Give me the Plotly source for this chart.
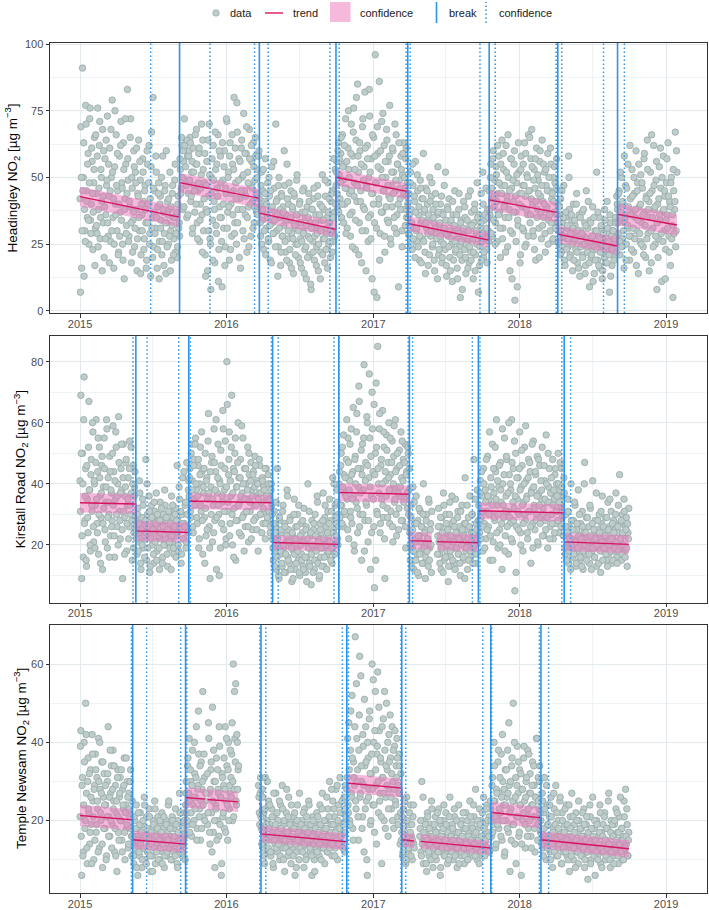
import datetime as dt
import plotly.graph_objects as go
from plotly.subplots import make_subplots

# ---------------- data: daily values from 2015-01-01 ----------------
# *_even: days 0, 2, 4, ...   *_odd: days 1, 3, 5, ...
start_date = dt.date(2015, 1, 1)

headingley_even = [
    42, 69, 16, 91, 50, 13, 30, 77, 45, 35, 59, 25, 72, 34, 40, 56, 23, 48, 65, 31,
    44, 29, 76, 38, 62, 27, 53, 41, 68, 33, 20, 57, 36, 47, 73, 28, 43, 61, 26, 50,
    79, 35, 16, 54, 40, 66, 30, 45, 22, 58, 37, 71, 48, 25, 63, 12, 42, 55, 32, 83,
    49, 28, 39, 72, 18, 46, 34, 60, 24, 52, 38, 15, 44, 64, 30, 49, 21, 36, 57, 41,
    27, 47, 33, 19, 55, 40, 62, 29, 13, 67, 35, 80, 24, 45, 31, 52, 16, 39, 48, 26,
    43, 34, 21, 58, 37, 29, 47, 14, 33, 41, 25, 38, 52, 30, 19, 44, 35, 27, 49, 22,
    36, 20, 40, 31, 28,
    53, 46, 62, 38, 56, 72, 49, 63, 35, 58, 44, 60, 65, 41, 52, 29, 61, 47, 37, 55,
    68, 33, 45, 59, 26, 40, 51, 36, 64, 30, 48, 21, 38, 56, 15, 43, 70, 27, 8, 50,
    34, 62, 41, 18, 53, 29, 46, 66, 23, 39, 58, 35, 9, 49, 31, 60, 24, 44, 71, 37,
    52, 19, 63, 40, 28, 55, 45, 80, 33, 48, 25, 67, 38, 57, 42, 16, 61, 50, 30, 74,
    45, 36, 59, 22, 52, 39, 68, 47, 28, 56, 41, 63, 33, 49, 58, 37, 53, 44, 60,
    39, 28, 52, 34, 45, 23, 41, 57, 31, 36, 48, 26, 43, 19, 38, 54, 33, 29, 46, 37,
    70, 30, 42, 24, 50, 35, 17, 44, 28, 39, 32, 47, 22, 36, 55, 27, 40, 18, 34, 45,
    29, 38, 14, 43, 31, 25, 49, 36, 20, 33, 41, 27, 16, 37, 30, 46, 23, 35, 12, 39,
    28, 44, 21, 33, 8, 38, 26, 42, 19, 31, 36, 24, 47, 15, 30, 40, 22, 34, 51, 27,
    38, 18, 43, 29, 35, 48, 25, 33, 20, 41, 30, 45, 26, 37, 53,
    47, 56, 38, 63, 51, 42, 59, 35, 66, 49, 55, 40, 72, 46, 31, 61, 53, 44, 28, 70,
    37, 58, 76, 48, 23, 64, 41, 85, 52, 33, 60, 45, 18, 69, 39, 54, 82, 30, 47, 62,
    26, 50, 73, 36, 57, 12, 44, 65, 33, 96, 48, 5, 59, 40, 86, 29, 53, 71, 37, 45,
    62, 22, 50, 68, 34, 56, 43, 77, 27, 47, 39, 60, 52, 31, 45, 66, 36, 55, 9, 49,
    42, 58, 30, 51, 63, 38, 46, 57, 35, 48,
    35, 44, 28, 52, 38, 23, 47, 31, 41, 56, 30, 26, 45, 36, 19, 49, 33, 42, 27, 59,
    37, 22, 46, 31, 40, 17, 35, 50, 28, 43, 24, 38, 33, 15, 44, 29, 36, 54, 21, 32,
    40, 26, 18, 37, 30, 47, 23, 34, 13, 39, 28, 42, 20, 33, 25, 11, 36, 30, 45, 22,
    31, 16, 27, 38, 24, 5, 34, 19, 29, 41, 23, 35, 14, 30, 26, 43, 18, 32, 22, 37,
    27, 12, 33, 40, 21, 29, 48, 25, 36, 17, 31, 44, 26, 52, 20, 34, 28, 46, 23, 38,
    30,
    45, 36, 55, 42, 28, 60, 39, 49, 33, 51, 26, 44, 58, 37, 20, 47, 64, 31, 53, 40,
    35, 62, 43, 24, 50, 38, 15, 57, 46, 29, 41, 55, 4, 37, 48, 9, 32, 52, 44, 21,
    58, 39, 47, 30, 63, 43, 25, 51, 36, 66, 45, 33, 57, 68, 40, 28, 53, 46, 19, 61,
    38, 49, 31, 56, 43, 27, 64, 41, 35, 52, 22, 47, 39, 59, 34, 45, 30, 55, 42, 26,
    50, 37, 48, 33, 57, 40,
    30, 25, 36, 42, 22, 33, 28, 47, 19, 35, 27, 31, 24, 58, 38, 21, 29, 34, 15, 40,
    26, 32, 23, 44, 18, 29, 36, 13, 30, 25, 37, 21, 28, 33, 17, 45, 24, 31, 27, 9,
    34, 20, 26, 39, 23, 14, 30, 25, 52, 19, 28, 35, 16, 24, 31, 12, 27, 22, 38, 18,
    26, 41, 21, 29, 7, 33, 23, 17, 30, 25, 20, 35, 28, 43,
    38, 29, 45, 21, 34, 50, 27, 40, 16, 33, 47, 25, 36, 55, 31, 19, 42, 28, 53, 37,
    22, 44, 35, 60, 30, 48, 14, 39, 26, 51, 33, 46, 24, 57, 37, 20, 43, 64, 29, 41,
    35, 52, 18, 45, 31, 62, 38, 25, 49, 8, 40, 27, 54, 34, 46, 11, 37, 58, 30, 43,
    23, 48, 36, 63, 28, 41, 17, 50, 32, 5, 45, 38, 67, 30, 52,
]
headingley_odd = [
    7, 50, 30, 45, 63, 38, 26, 70, 41, 55, 34, 48, 76, 29, 61, 44, 37, 53, 17, 66,
    32, 58, 24, 46, 71, 35, 50, 15, 43, 60, 39, 27, 64, 49, 33, 55, 18, 45, 68, 30,
    52, 42, 25, 75, 36, 47, 59, 21, 40, 28, 62, 34, 46, 19, 53, 38, 72, 29, 44, 57,
    26, 41, 65, 33, 50, 22, 37, 54, 31, 48, 61, 27, 43, 35, 56, 14, 40, 30, 52, 23,
    45, 38, 16, 60, 33, 48, 25, 42, 54, 31, 20, 46, 37, 29, 58, 35, 23, 44, 12, 40,
    31, 50, 26, 38, 17, 45, 33, 60, 24, 36, 42, 28, 15, 39, 32, 47, 21, 35, 55, 29,
    37, 24, 43, 33,
    57, 44, 65, 50, 60, 39, 62, 54, 47, 64, 36, 58, 49, 63, 43, 56, 31, 52, 45, 66,
    40, 55, 27, 48, 61, 34, 46, 70, 22, 53, 42, 59, 13, 47, 37, 64, 30, 51, 25, 44,
    57, 19, 49, 38, 67, 32, 55, 43, 11, 60, 35, 48, 26, 63, 40, 54, 17, 46, 72, 31,
    50, 39, 58, 23, 44, 66, 36, 53, 29, 61, 42, 78, 33, 49, 20, 56, 45, 64, 38, 51,
    27, 59, 43, 69, 35, 48, 24, 57, 40, 62, 46, 31, 54, 39, 65, 44, 50, 36, 58,
    42, 33, 47, 25, 38, 53, 30, 44, 21, 40, 35, 27, 50, 32, 45, 18, 39, 29, 56, 34,
    24, 41, 36, 13, 47, 31, 38, 22, 43, 28, 37, 60, 26, 34, 19, 42, 30, 48, 23, 35,
    16, 39, 27, 44, 32, 21, 36, 51, 25, 30, 40, 18, 33, 26, 45, 29, 14, 37, 24, 32,
    20, 35, 41, 27, 10, 31, 38, 22, 46, 28, 33, 17, 29, 43, 25, 36, 12, 30, 39, 21,
    34, 27, 49, 23, 31, 16, 37, 42, 26, 30, 44, 22, 35, 57, 28, 40,
    52, 44, 60, 37, 57, 48, 65, 40, 54, 33, 62, 46, 29, 56, 41, 75, 50, 36, 59, 45,
    24, 67, 43, 53, 34, 80, 47, 58, 21, 63, 41, 55, 30, 72, 49, 38, 61, 15, 46, 57,
    35, 83, 52, 27, 44, 66, 40, 7, 58, 48, 31, 69, 54, 42, 19, 60, 37, 50, 74, 45,
    28, 56, 39, 64, 47, 33, 58, 42, 25, 52, 61, 44, 35, 70, 49, 29, 55, 40, 63, 46,
    38, 53, 24, 59, 44, 50, 32, 61, 43,
    40, 29, 36, 48, 25, 33, 55, 27, 43, 20, 37, 31, 51, 24, 39, 28, 46, 18, 34, 42,
    26, 38, 14, 33, 45, 29, 36, 21, 41, 30, 48, 25, 35, 19, 31, 40, 27, 12, 37, 23,
    33, 28, 43, 20, 36, 25, 31, 52, 17, 29, 38, 24, 30, 15, 34, 27, 41, 19, 32, 26,
    23, 36, 12, 29, 44, 21, 33, 26, 8, 31, 28, 39, 20, 25, 34, 16, 30, 24, 45, 19,
    32, 27, 22, 38, 15, 30, 25, 35, 7, 28, 24, 33, 19, 29, 40, 22, 36, 27, 31, 18,
    35, 26,
    38, 50, 29, 46, 57, 34, 43, 25, 54, 41, 62, 36, 48, 31, 55, 44, 27, 59, 39, 47,
    22, 52, 41, 66, 35, 45, 30, 57, 12, 49, 37, 60, 43, 26, 51, 34, 63, 40, 18, 53,
    44, 31, 55, 47, 24, 59, 38, 50, 28, 45, 65, 36, 42, 54, 30, 49, 23, 57, 41, 35,
    51, 44, 20, 60, 37, 47, 32, 55, 40, 29, 53, 38, 45, 25, 50, 36, 61, 33, 44, 27,
    41, 54, 31, 46, 36,
    33, 26, 39, 21, 30, 45, 24, 35, 28, 17, 37, 23, 32, 27, 50, 20, 29, 36, 25, 31,
    19, 34, 27, 40, 22, 30, 16, 28, 35, 24, 29, 20, 38, 25, 14, 32, 27, 22, 41, 18,
    26, 33, 21, 28, 11, 35, 24, 19, 30, 23, 37, 17, 27, 22, 32, 25, 15, 29, 20, 34,
    24, 18, 31, 26, 21, 36, 13, 28, 23, 30, 19, 27, 33, 22, 40,
    33, 44, 26, 52, 37, 24, 41, 30, 58, 35, 19, 46, 32, 39, 28, 62, 36, 23, 43, 31,
    50, 27, 38, 17, 45, 34, 55, 29, 40, 25, 48, 36, 21, 59, 32, 42, 27, 53, 38, 15,
    44, 30, 66, 35, 24, 47, 39, 28, 56, 33, 20, 42, 36, 61, 29, 50, 26, 38, 45, 12,
    34, 57, 31, 43, 22, 39, 48, 27, 36, 53, 29, 41, 24, 60,
]

kirkstall_even = [
    41, 69, 9, 50, 16, 75, 28, 45, 13, 35, 24, 67, 38, 18, 48, 31, 57, 21, 40, 33,
    61, 27, 44, 17, 52, 36, 29, 46, 12, 39, 55, 25, 34, 61, 19, 42, 30, 49, 23, 37,
    28, 59, 44, 16, 35, 52, 26, 40, 62, 31, 22, 45, 38, 9, 53, 29, 36, 47, 18, 33,
    42, 26, 54, 30, 37, 15, 46, 24, 39, 28,
    26, 17, 32, 21, 41, 24, 12, 29, 35, 19, 27, 22, 48, 15, 30, 25, 36, 11, 23, 33,
    20, 28, 14, 31, 26, 37, 18, 24, 29, 12, 34, 22, 27, 16, 30, 25, 33, 20, 28, 13,
    24, 31, 19, 26, 36, 21, 29, 17, 25, 32, 23, 46, 28, 18, 35, 26, 14, 30, 42, 22,
    27, 33, 19, 47, 25, 38,
    36, 45, 29, 53, 41, 24, 48, 33, 55, 38, 27, 46, 19, 40, 52, 31, 44, 17, 37, 29,
    50, 23, 42, 35, 63, 26, 9, 39, 47, 21, 33, 58, 28, 44, 12, 37, 53, 30, 41, 19,
    46, 34, 64, 25, 38, 54, 22, 80, 31, 43, 57, 27, 36, 69, 20, 45, 32, 50, 15, 39,
    28, 60, 42, 34, 48, 23, 37, 55, 30, 45, 26, 40, 35, 52, 21, 43, 31, 47, 38, 25,
    44, 33, 49, 29, 36, 41, 18, 37, 46, 30, 34, 42, 27, 39, 31, 22, 45, 35, 28, 40,
    36, 24, 38, 33,
    22, 15, 31, 18, 26, 12, 45, 20, 9, 28, 17, 24, 13, 33, 19, 27, 11, 21, 38, 16,
    25, 14, 29, 20, 8, 23, 18, 35, 12, 26, 19, 30, 15, 22, 10, 27, 17, 24, 13, 32,
    21, 11, 26, 16, 40, 19, 14, 23, 7, 28, 18, 25, 12, 30, 20, 15, 34, 22, 9, 27,
    16, 24, 19, 37, 13, 29, 21, 26, 17, 31, 23, 35, 18, 28, 14, 42, 25, 20, 33, 27,
    38, 22, 30,
    40, 29, 46, 33, 52, 26, 43, 37, 30, 48, 35, 55, 22, 41, 31, 58, 27, 44, 36, 18,
    49, 34, 63, 24, 39, 67, 30, 45, 15, 53, 38, 79, 28, 47, 33, 60, 21, 42, 55, 12,
    36, 70, 44, 26, 6, 50, 73, 31, 85, 40, 58, 24, 46, 35, 64, 29, 52, 9, 41, 56,
    32, 47, 60, 27, 43, 38, 54, 21, 49, 34, 61, 30, 45, 39, 25, 51, 36, 57, 42, 28,
    48, 35, 53, 19, 44, 32, 50, 38,
    24, 15, 33, 19, 39, 12, 27, 21, 36, 17, 28, 10, 23, 31, 18, 26, 14, 40, 20, 25,
    16, 30, 22, 13, 34, 19, 27, 11, None, None, None, None, None, None, None,
    23, 32, 17, 26, 12, 29, 20, 37, 15, 24, 30, 18, 25, 8, 21, 34, 16, 27, 13, 22,
    28, 19, 35, 14, 24, 31, 17, 26, 10, 22, 33, 20, 15, 27, 42, 18, 25, 12, 29, 21,
    36, 16, 24, 30, 19, 48, 23, 14, 27, 38, 21,
    33, 24, 41, 29, 36, 18, 45, 27, 38, 22, 31, 49, 26, 35, 15, 42, 30, 53, 21, 37,
    28, 44, 61, 33, 19, 39, 25, 47, 34, 12, 40, 29, 55, 23, 36, 48, 31, 17, 43, 27,
    38, 61, 21, 45, 32, 5, 50, 26, 35, 42, 30, 57, 24, 39, 46, 18, 34, 52, 28, 41,
    36, 22, 48, 31, 44, 14, 38, 27, 54, 33, 25, 43, 30, 49, 20, 37, 46, 29, 35, 52,
    32, 23, 41, 28, 56, 34, 19, 39, 45, 26, 37, 30, 48, 22, 35, 43, 27, 40, 31, 50,
    24, 38, 33, 45, 29, 36, 42,
    23, 17, 30, 20, 35, 14, 26, 19, 40, 22, 16, 28, 21, 33, 13, 25, 18, 38, 23, 15,
    27, 20, 31, 12, 24, 47, 17, 29, 22, 19, 26, 14, 32, 21, 18, 41, 23, 16, 28, 20,
    13, 25, 19, 30, 22, 11, 27, 36, 18, 24, 21, 29, 15, 23, 34, 17, 26, 20, 31, 14,
    22, 28, 18, 25, 37, 16, 24, 33, 19, 27, 21, 15, 30, 23, 35, 18, 26, 29, 13, 24,
    32,
]
kirkstall_odd = [
    31, 50, 23, 40, 61, 27, 36, 15, 46, 29, 52, 38, 20, 43, 33, 60, 26, 41, 19, 47,
    35, 24, 55, 30, 42, 14, 37, 49, 27, 32, 45, 21, 39, 58, 29, 34, 16, 44, 38, 26,
    50, 33, 23, 41, 57, 30, 36, 20, 47, 28, 37, 53, 25, 42, 31, 17, 39, 48, 27, 35,
    22, 45, 33, 52, 28, 40, 19, 36, 44, 25,
    22, 30, 18, 27, 37, 14, 25, 20, 33, 23, 16, 28, 24, 40, 19, 26, 31, 13, 22, 29,
    25, 17, 34, 21, 27, 15, 30, 23, 19, 28, 24, 32, 14, 26, 20, 38, 22, 29, 17, 25,
    31, 21, 27, 12, 23, 33, 19, 26, 30, 16, 28, 24, 20, 39, 25, 31, 17, 27, 22, 44,
    26, 34, 21, 30, 24, 41,
    42, 31, 50, 38, 26, 46, 35, 53, 40, 29, 36, 48, 22, 43, 33, 57, 28, 39, 45, 14,
    32, 41, 25, 54, 37, 19, 44, 30, 49, 35, 24, 47, 38, 61, 29, 42, 33, 10, 40, 51,
    27, 36, 58, 31, 45, 20, 39, 66, 34, 48, 23, 41, 52, 30, 37, 16, 44, 55, 28, 39,
    47, 33, 24, 42, 36, 59, 29, 40, 18, 35, 45, 31, 38, 26, 50, 34, 41, 22, 36, 43,
    28, 39, 46, 33, 25, 40, 35, 48, 30, 37, 24, 41, 32, 38, 45, 27, 36, 29, 43, 31,
    35, 26, 40, 30,
    19, 27, 13, 24, 34, 16, 22, 10, 29, 18, 25, 14, 31, 20, 11, 26, 17, 23, 36, 15,
    21, 28, 12, 19, 24, 9, 30, 17, 22, 14, 26, 18, 33, 11, 23, 20, 15, 28, 12, 21,
    16, 25, 8, 22, 19, 31, 13, 24, 17, 20, 11, 27, 15, 23, 18, 36, 14, 21, 10, 25,
    19, 13, 28, 22, 16, 33, 20, 12, 24, 18, 27, 21, 15, 31, 19, 24, 40, 17, 29, 23,
    34, 20, 26,
    44, 33, 50, 27, 39, 56, 31, 42, 36, 61, 25, 47, 38, 53, 29, 43, 35, 65, 20, 48,
    40, 57, 32, 45, 72, 26, 37, 51, 43, 30, 55, 18, 41, 34, 62, 46, 28, 76, 39, 49,
    24, 58, 35, 66, 43, 15, 52, 30, 45, 37, 63, 27, 48, 40, 33, 57, 22, 44, 36, 51,
    29, 42, 38, 55, 31, 47, 26, 40, 59, 35, 44, 23, 50, 37, 32, 46, 39, 28, 54, 41,
    34, 47, 26, 43, 37, 52, 30, 45,
    20, 29, 13, 25, 18, 34, 22, 15, 27, 11, 23, 32, 17, 21, 26, 14, 30, 19, 24, 9,
    28, 18, 22, 35, 15, 25, 20, 31, None, None, None, None, None, None,
    17, 26, 21, 14, 29, 19, 24, 11, 33, 22, 16, 27, 20, 25, 13, 30, 18, 23, 36, 15,
    21, 26, 12, 24, 19, 29, 17, 22, 14, 31, 20, 25, 16, 23, 9, 27, 19, 33, 22, 15,
    26, 18, 21, 30, 14, 24, 20, 35, 17, 25, 22, 28,
    28, 37, 22, 44, 31, 26, 40, 19, 34, 48, 25, 36, 30, 57, 23, 39, 33, 15, 45, 29,
    52, 35, 24, 41, 30, 46, 20, 38, 27, 58, 33, 43, 18, 31, 49, 26, 37, 60, 29, 40,
    22, 47, 34, 28, 54, 36, 11, 42, 31, 25, 45, 38, 20, 51, 33, 27, 40, 30, 59, 35,
    24, 42, 31, 47, 26, 37, 53, 19, 39, 32, 44, 28, 36, 21, 48, 33, 27, 41, 38, 23,
    30, 46, 35, 25, 40, 29, 50, 34, 22, 37, 42, 27, 33, 38, 24, 45, 31, 36, 28, 40,
    34, 47, 26, 39, 31, 23, 37,
    19, 26, 15, 24, 31, 18, 22, 12, 28, 20, 25, 17, 34, 21, 14, 27, 19, 23, 30, 16,
    22, 13, 26, 18, 40, 20, 24, 15, 29, 21, 17, 33, 23, 12, 27, 19, 25, 16, 22, 37,
    20, 28, 14, 24, 18, 31, 21, 15, 26, 19, 23, 17, 29, 13, 25, 20, 35, 18, 22, 27,
    15, 24, 19, 30, 21, 14, 26, 18, 43, 22, 28, 17, 24, 20, 31, 16, 25, 19, 27, 22,
]

temple_even = [
    21, 43, 6, 31, 12, 40, 18, 50, 27, 9, 36, 22, 14, 33, 19, 42, 25, 10, 29, 37,
    17, 31, 23, 41, 13, 28, 20, 35, 8, 26, 32, 18, 24, 11, 30, 44, 21, 16, 27, 34,
    19, 38, 25, 12, 29, 22, 7, 33, 17, 26, 31, 20, 15, 28, 23, 36, 10, 24, 18, 30,
    13, 27, 21, 33, 16, 25,
    14, 9, 20, 12, 24, 16, 6, 18, 11, 22, 15, 8, 19, 13, 26, 10, 17, 21, 12, 16,
    23, 14, 7, 18, 11, 20, 15, 25, 9, 17, 13, 21, 16, 10, 19, 14, 22, 12, 18, 8,
    15, 20, 11, 17, 24, 13, 19, 16, 10, 21, 14, 18, 12, 23, 16, 9, 20, 15, 27, 13,
    17, 11, 19, 14, 22, 10,
    27, 22, 34, 19, 41, 25, 30, 16, 38, 24, 20, 32, 26, 44, 18, 29, 37, 23, 15, 35,
    28, 53, 21, 31, 25, None, None,
    19, 45, 27, 14, 33, 22, 49, 17, 30, 8, 24, 36, 20, 28, 16, 39, 26, 6, 32, 21,
    29, 18, 44, 25, 34, 15, 40, 23, 27, 31, 37, 20, 60, 28, 41, 55, 24, 40, 33,
    None, None, None, None, None, None, None, None, None, None,
    None, None, None, None, None, None, None, None, None, None,
    None, None, None, None, None,
    26, 19, 31,
    18, 28, 13, 22, 9, 31, 16, 20, 12, 25, 15, 19, 11, 23, 17, 8, 21, 14, 27, 16,
    12, 20, 18, 10, 24, 15, 29, 13, 19, 7, 17, 22, 14, 11, 26, 16, 20, 9, 18, 13,
    21, 15, 6, 19, 12, 24, 16, 10, 18, 14, 20, 13, 17, 8, 23, 15, 11, 19, 14, 25,
    16, 12, 18, 6, 21, 14, 10, 17, 13, 22, 15, 19, 11, 24, 16, 13, 27, 14, 18, 9,
    20, 15, 12, 23, 17, 30, 14, 19, 11, 25, 16, 21, 13, 28, 18, 10, 24, 15, 31, 19,
    14, 22, 17, 26, 12, 29, 20,
    31, 24, 45, 20, 38, 27, 52, 18, 35, 29, 67, 23, 41, 33, 15, 47, 26, 57, 30, 21,
    39, 12, 34, 44, 25, 6, 36, 28, 48, 19, 32, 60, 24, 40, 17, 53, 29, 37, 58, 22,
    43, 27, 35, 9, 31, 46, 20, 38, 26, 50, 33, 16, 42, 28, 36, 23, 44, 30, 18, 39,
    25, 34, 41, 21, 29, 37, 14, 32,
    17, 11, 23, 14, 20, 9, 26, 15, 12, 19, 13, 24, 16, 10, 21, 14,
    None, None, None, None, None, None, None,
    18, 12, 30, 15, 9, 20, 13, 17, 7, 22, 14, 11, 19, 16, 25, 12, 8, 18, 15, 21,
    10, 17, 13, 23, 14, 6, 19, 12, 16, 20, 11, 15, 22, 13, 9, 18, 14, 26, 12, 16,
    19, 10, 14, 21, 13, 17, 8, 15, 24, 12, 16, 11, 20, 14, 18, 9, 13, 22, 15, 10,
    17, 12, 25, 14, 19, 11, 16, 21, 13, 28, 15, 10, 18, 14, 23, 12, 20, 16, 11, 26,
    14, 19, 13, 24, 17, 12, 21, 16,
    23, 16, 31, 19, 40, 25, 13, 28, 21, 35, 18, 27, 22, 37, 15, 30, 24, 11, 33, 20,
    26, 38, 17, 29, 7, 23, 34, 19, 50, 25, 14, 31, 21, 39, 27, 16, 33, 24, 6, 28,
    20, 36, 25, 13, 30, 22, 38, 18, 27, 32, 16, 24, 35, 21, 29, 12, 26, 41, 19, 31,
    23, 34, 17,
    17, 27, 13, 22, 31, 16, 10, 24, 19, 14, 21, 12, 26, 15, 8, 18, 23, 14, 29, 11,
    16, 20, 13, 25, 17, 9, 22, 15, 12, 19, 14, 24, 11, 18, 16, 7, 21, 13, 27, 15,
    10, 19, 14, 22, 12, 17, 9, 20, 15, 13, 18, 11, 16, 23, 8, 14, 19, 12, 5, 17,
    13, 21, 10, 15, 26, 12, 18, 6, 14, 20, 11, 16, 13, 24, 9, 17, 12, 19, 14, 22,
    10, 15, 18, 12, 27, 14, 8, 20, 13, 16, 11, 19, 14, 23, 12, 17, 9, 21, 15, 13,
    18, 10, 16, 25, 12, 28, 14, 19, 11, 17,
]
temple_odd = [
    39, 16, 29, 11, 24, 35, 20, 42, 13, 30, 23, 32, 17, 26, 9, 37, 21, 28, 15, 33,
    19, 25, 12, 30, 40, 22, 27, 14, 35, 18, 24, 29, 10, 21, 32, 16, 26, 38, 20, 13,
    28, 23, 34, 18, 11, 25, 31, 21, 15, 27, 20, 33, 12, 24, 29, 17, 22, 36, 19, 26,
    14, 23, 30, 18, 11,
    16, 11, 21, 13, 18, 8, 15, 22, 12, 19, 14, 17, 10, 20, 13, 24, 16, 9, 18, 12,
    15, 21, 11, 17, 14, 7, 19, 13, 23, 16, 12, 18, 10, 15, 20, 13, 17, 9, 14, 21,
    11, 16, 19, 12, 15, 25, 13, 18, 10, 14, 20, 12, 16, 11, 19, 14, 8, 17, 13, 22,
    15, 12, 18, 14, 20, 16,
    24, 30, 20, 36, 27, 17, 33, 22, 29, 19, 26, 40, 23, 31, 15, 28, 48, 21, 34, 25,
    18, 30, 24, 37, 20, 27, None,
    32, 22, 41, 17, 28, 35, 12, 25, 38, 20, 30, 23, 15, 33, 27, 44, 19, 26, 9, 31,
    22, 36, 28, 17, 41, 24, 33, 20, 29, 38, 26, 45, 30, 21, 53, 35, 25, 42, 28, 34,
    None, None, None, None, None, None, None, None, None, None, None, None,
    None, None, None, None, None, None, None, None, None, None, None, None,
    29, 22, 27,
    21, 14, 26, 17, 11, 23, 15, 19, 30, 13, 18, 24, 12, 16, 21, 9, 27, 15, 19, 13,
    22, 17, 14, 25, 11, 18, 16, 23, 10, 20, 15, 13, 28, 17, 21, 12, 19, 14, 24, 16,
    11, 18, 22, 14, 8, 20, 15, 17, 27, 13, 19, 16, 12, 22, 14, 18, 10, 21, 15, 17,
    24, 13, 19, 11, 16, 20, 14, 7, 18, 15, 12, 21, 17, 14, 19, 10, 23, 16, 13, 20,
    15, 18, 26, 12, 16, 21, 13, 17, 28, 14, 19, 23, 11, 17, 15, 29, 20, 14, 18, 22,
    16, 25, 13, 19, 23, 17, 21,
    28, 41, 22, 33, 19, 48, 26, 36, 15, 31, 44, 25, 55, 30, 21, 38, 62, 27, 34, 18,
    42, 29, 51, 23, 35, 10, 40, 26, 46, 32, 20, 37, 28, 56, 24, 43, 33, 14, 39, 30,
    49, 25, 36, 21, 44, 31, 27, 53, 18, 34, 29, 40, 23, 35, 47, 26, 32, 20, 38, 28,
    43, 24, 31, 36, 19, 27, 34, 22,
    15, 21, 12, 18, 25, 14, 10, 20, 16, 13, 22, 17, 11, 19, 15, 24, 13,
    None, None, None, None, None, None,
    16, 20, 11, 14, 26, 17, 13, 19, 9, 15, 21, 12, 18, 14, 10, 23, 16, 13, 19, 11,
    17, 14, 22, 12, 15, 20, 8, 16, 13, 18, 24, 11, 15, 19, 13, 17, 10, 21, 14, 16,
    12, 18, 15, 23, 11, 14, 20, 13, 17, 9, 15, 19, 12, 16, 22, 13, 11, 18, 14, 20,
    10, 16, 13, 21, 15, 12, 18, 24, 14, 11, 17, 13, 20, 15, 9, 19, 12, 16, 22, 14,
    18, 11, 15, 23, 13, 20, 16, 12, 25,
    20, 29, 17, 25, 34, 21, 14, 27, 19, 38, 23, 31, 16, 26, 42, 20, 28, 12, 24, 33,
    18, 27, 45, 22, 30, 15, 36, 25, 19, 40, 26, 9, 29, 21, 35, 17, 24, 32, 14, 28,
    22, 39, 19, 26, 31, 16, 23, 37, 20, 27, 13, 29, 24, 34, 18, 26, 21, 41, 15, 25,
    30, 22,
    20, 14, 25, 11, 18, 23, 15, 29, 13, 19, 16, 24, 10, 21, 14, 17, 27, 12, 19, 15,
    22, 11, 18, 14, 26, 16, 9, 20, 13, 17, 23, 12, 15, 19, 10, 24, 14, 18, 11, 16,
    21, 13, 17, 8, 15, 20, 12, 25, 14, 18, 11, 16, 22, 13, 19, 10, 15, 21, 12, 17,
    14, 24, 9, 18, 13, 16, 11, 20, 15, 12, 19, 10, 14, 17, 22, 13, 8, 16, 12, 21,
    15, 11, 18, 13, 25, 14, 10, 17, 12, 19, 16, 9, 20, 13, 15, 22, 11, 17, 14, 26,
    12, 18, 15, 10, 21, 13, 16, 23, 11, 15,
]

# ---------------- breaks and their confidence intervals ----------------
headingley_breaks = ["2015-09-06", "2016-03-23", "2016-09-30", "2017-03-28", "2017-10-17", "2018-04-06", "2018-09-02"]
headingley_break_lo = ["2015-06-26", "2016-03-11", "2016-09-15", "2017-03-24", "2017-09-24", "2018-04-02", "2018-07-29"]
headingley_break_hi = ["2015-11-21", "2016-04-14", "2016-10-08", "2017-04-03", "2017-11-01", "2018-04-16", "2018-09-19"]

kirkstall_breaks = ["2015-05-20", "2015-09-29", "2016-04-25", "2016-10-07", "2017-04-01", "2017-09-20", "2018-04-22"]
kirkstall_break_lo = ["2015-05-13", "2015-09-04", "2016-04-22", "2016-09-25", "2017-03-29", "2017-09-05", "2018-04-16"]
kirkstall_break_hi = ["2015-06-17", "2015-10-03", "2016-05-09", "2016-10-08", "2017-04-09", "2017-09-24", "2018-05-08"]

temple_breaks = ["2015-05-12", "2015-09-21", "2016-03-27", "2016-10-27", "2017-03-13", "2017-10-21", "2018-02-23"]
temple_break_lo = ["2015-05-09", "2015-09-09", "2016-03-24", "2016-10-16", "2017-03-11", "2017-10-01", "2018-02-19"]
temple_break_hi = ["2015-06-16", "2015-09-24", "2016-04-08", "2016-10-31", "2017-03-23", "2017-10-23", "2018-03-14"]

# ---------------- fitted trend pieces ----------------
headingley_trend_from = ["2015-01-01", "2015-09-06", "2016-03-23", "2016-09-30", "2017-03-28", "2017-10-17", "2018-04-06", "2018-09-02"]
headingley_trend_to = ["2015-09-06", "2016-03-23", "2016-09-30", "2017-03-28", "2017-10-17", "2018-04-06", "2018-09-02", "2019-01-28"]
headingley_trend_v0 = [42.8, 48.1, 36.6, 50.1, 32.8, 41.6, 28.7, 36.2]
headingley_trend_v1 = [35.1, 42.2, 30.5, 44.7, 26.5, 36.8, 24.3, 32.2]
headingley_trend_ci = [3.7, 3.6, 3.0, 3.0, 2.8, 3.8, 3.3, 4.0]
headingley_trend_gap = [False] * 8

kirkstall_trend_from = ["2015-01-01", "2015-05-20", "2015-09-29", "2016-04-25", "2016-10-07", "2017-04-01", "2017-06-09", "2017-09-20", "2018-04-22"]
kirkstall_trend_to = ["2015-05-20", "2015-09-29", "2016-04-25", "2016-10-07", "2017-04-01", "2017-05-27", "2017-09-20", "2018-04-22", "2018-09-30"]
kirkstall_trend_v0 = [33.8, 24.6, 34.4, 20.8, 37.2, 21.4, 21.1, 31.2, 21.0]
kirkstall_trend_v1 = [33.4, 24.1, 33.8, 20.2, 36.6, 21.2, 20.7, 30.5, 20.2]
kirkstall_trend_ci = [3.2, 3.3, 2.6, 2.4, 2.9, 2.8, 2.8, 2.8, 3.0]
kirkstall_trend_gap = [False, False, False, False, False, False, True, False, False]

temple_trend_from = ["2015-01-01", "2015-05-12", "2015-09-21", "2015-11-15", "2016-03-22", "2016-03-27", "2016-10-27", "2017-03-13", "2017-04-29", "2017-10-21", "2018-02-23"]
temple_trend_to = ["2015-05-12", "2015-09-21", "2015-11-09", "2016-01-30", "2016-03-27", "2016-10-27", "2017-03-13", "2017-04-13", "2017-10-21", "2018-02-23", "2018-09-30"]
temple_trend_v0 = [21.3, 15.1, 25.9, 25.4, 24.4, 16.6, 29.6, 15.1, 14.7, 22.1, 15.1]
temple_trend_v1 = [20.2, 14.0, 25.5, 24.8, 24.3, 14.6, 28.3, 14.8, 13.0, 20.7, 12.8]
temple_trend_ci = [2.7, 2.3, 2.6, 2.6, 2.6, 2.1, 2.4, 1.8, 1.8, 2.7, 2.2]
temple_trend_gap = [False, False, False, True, True, False, False, False, True, False, False]

site_titles = [
    "Headingley NO<sub>2</sub> [µg m<sup>−3</sup>]",
    "Kirstall Road NO<sub>2</sub> [µg m<sup>−3</sup>]",
    "Temple Newsam NO<sub>2</sub> [µg m<sup>−3</sup>]",
]

# ---------------- styling ----------------
FONT = "Liberation Sans, Arial, sans-serif"
PT_FILL = "#BECDCB"
PT_LINE = "#95A8A6"
TREND = "#D8145F"
BAND = "rgba(235,115,185,0.50)"
BREAK = "#2B95E9"
DOT = "1.5px,2.5px"
GRID = "#E3EAEE"
GRID_MINOR = "#EEF3F5"
BORDER = "#333333"

W, H = 709, 910
ML, MR, MT, MB = 50, 2, 43, 17
plot_w = W - ML - MR
plot_h = H - MT - MB


def px_x(p):
    return (p - ML) / plot_w


def px_y(p):
    return (H - MB - p) / plot_h


panel_px = [(43, 313), (335.7, 602.7), (625, 893)]
y_ranges = [[-0.8, 100.4], [1.1, 88.5], [1.5, 70.0]]
y_major = [25, 20, 20]
y_minor = [12.5, 10, 10]
title_x_px = [12.5, 21, 21]

sites = [
    (headingley_even, headingley_odd, headingley_breaks, headingley_break_lo, headingley_break_hi,
     headingley_trend_from, headingley_trend_to, headingley_trend_v0, headingley_trend_v1,
     headingley_trend_ci, headingley_trend_gap),
    (kirkstall_even, kirkstall_odd, kirkstall_breaks, kirkstall_break_lo, kirkstall_break_hi,
     kirkstall_trend_from, kirkstall_trend_to, kirkstall_trend_v0, kirkstall_trend_v1,
     kirkstall_trend_ci, kirkstall_trend_gap),
    (temple_even, temple_odd, temple_breaks, temple_break_lo, temple_break_hi,
     temple_trend_from, temple_trend_to, temple_trend_v0, temple_trend_v1,
     temple_trend_ci, temple_trend_gap),
]

fig = make_subplots(rows=3, cols=1, shared_xaxes=False)
shapes = []
annotations = []

for k, (ev, od, brk, blo, bhi, tf, tt, v0, v1, ci, gap) in enumerate(sites):
    row = k + 1
    dates = [start_date + dt.timedelta(days=2 * i) for i in range(len(ev))]
    dates += [start_date + dt.timedelta(days=2 * j + 1) for j in range(len(od))]
    vals = list(ev) + list(od)
    fig.add_trace(go.Scatter(
        x=dates, y=vals, mode="markers",
        marker=dict(size=6.5, color=PT_FILL, line=dict(color=PT_LINE, width=0.8)),
        hoverinfo="skip", showlegend=False), row=row, col=1)

    # confidence band of the trend
    bx, by = [], []
    for a, b, s, e, h in zip(tf, tt, v0, v1, ci):
        bx += [a, b, b, a, a, None]
        by += [s + h, e + h, e - h, s - h, s + h, None]
    fig.add_trace(go.Scatter(
        x=bx, y=by, mode="lines", fill="toself", fillcolor=BAND,
        line=dict(width=0), hoverinfo="skip", showlegend=False), row=row, col=1)

    # trend line
    lx, ly = [], []
    for a, b, s, e, g in zip(tf, tt, v0, v1, gap):
        if g:
            lx.append(None)
            ly.append(None)
        lx += [a, b]
        ly += [s, e]
    fig.add_trace(go.Scatter(
        x=lx, y=ly, mode="lines", line=dict(color=TREND, width=1.4),
        hoverinfo="skip", showlegend=False), row=row, col=1)

    xref = "x" if row == 1 else f"x{row}"
    yref = "y domain" if row == 1 else f"y{row} domain"
    for d in blo + bhi:
        shapes.append(dict(type="line", xref=xref, yref=yref, x0=d, x1=d, y0=0, y1=1,
                           line=dict(color=BREAK, width=1.5, dash=DOT)))
    for d in brk:
        shapes.append(dict(type="line", xref=xref, yref=yref, x0=d, x1=d, y0=0, y1=1,
                           line=dict(color=BREAK, width=1.6)))

    top, bot = panel_px[k]
    yaxis_name = "yaxis" if row == 1 else f"yaxis{row}"
    xaxis_name = "xaxis" if row == 1 else f"xaxis{row}"
    fig.update_layout(**{
        yaxis_name: dict(
            domain=[px_y(bot), px_y(top)], range=y_ranges[k], automargin=False,
            dtick=y_major[k], tick0=0, showgrid=True, gridcolor=GRID, gridwidth=1.2,
            minor=dict(dtick=y_minor[k], tick0=0, showgrid=True, gridcolor=GRID_MINOR, gridwidth=0.7),
            ticks="outside", ticklen=3.5, tickwidth=1, tickcolor=BORDER,
            showline=True, mirror=True, linecolor=BORDER, linewidth=1,
            zeroline=False, tickfont=dict(size=11, color="#4D4D4D", family=FONT)),
        xaxis_name: dict(
            type="date", range=["2014-10-18", "2019-04-13"], automargin=False,
            dtick="M12", tick0="2015-01-01", tickformat="%Y",
            showgrid=True, gridcolor=GRID, gridwidth=1.2,
            minor=dict(dtick="M12", tick0="2014-07-01", showgrid=True, gridcolor=GRID_MINOR, gridwidth=0.7),
            ticks="outside", ticklen=3.5, tickwidth=1, tickcolor=BORDER,
            ticklabelstandoff=-3,
            showline=True, mirror=True, linecolor=BORDER, linewidth=1,
            zeroline=False, showticklabels=True,
            tickfont=dict(size=11, color="#4D4D4D", family=FONT)),
    })

    annotations.append(dict(
        text=site_titles[k], xref="paper", yref="paper",
        x=px_x(title_x_px[k]), y=px_y((top + bot) / 2), textangle=-90,
        showarrow=False, xanchor="center", yanchor="middle",
        font=dict(size=13.5, color="black", family=FONT)))

# ---------------- legend (drawn manually at the top) ----------------
ly_c = 13
shapes += [
    dict(type="circle", xref="paper", yref="paper",
         x0=px_x(212.8), x1=px_x(219.2), y0=px_y(16.2), y1=px_y(9.8),
         fillcolor=PT_FILL, line=dict(color=PT_LINE, width=0.8)),
    dict(type="line", xref="paper", yref="paper",
         x0=px_x(265), x1=px_x(283), y0=px_y(ly_c), y1=px_y(ly_c),
         line=dict(color=TREND, width=1.4)),
    dict(type="rect", xref="paper", yref="paper",
         x0=px_x(330), x1=px_x(350.5), y0=px_y(22), y1=px_y(2),
         fillcolor=BAND, line=dict(width=0)),
    dict(type="line", xref="paper", yref="paper",
         x0=px_x(436.5), x1=px_x(436.5), y0=px_y(23), y1=px_y(2),
         line=dict(color=BREAK, width=1.6)),
    dict(type="line", xref="paper", yref="paper",
         x0=px_x(486), x1=px_x(486), y0=px_y(23), y1=px_y(2),
         line=dict(color=BREAK, width=1.5, dash=DOT)),
]
for txt, xp in [("data", 227.5), ("trend", 290.5), ("confidence", 357.5),
                ("break", 447), ("confidence", 496.5)]:
    annotations.append(dict(text=txt, xref="paper", yref="paper",
                            x=px_x(xp), y=px_y(ly_c), xanchor="left", yanchor="middle",
                            showarrow=False, font=dict(size=11, color="#1A1A1A", family=FONT)))

fig.update_layout(
    width=W, height=H,
    margin=dict(l=ML, r=MR, t=MT, b=MB, autoexpand=False),
    plot_bgcolor="white", paper_bgcolor="white",
    showlegend=False,
    font=dict(family=FONT, size=11, color="#4D4D4D"),
    shapes=shapes, annotations=annotations,
)

# remove the browser's default page margin so the figure starts at the window corner
fig.write_html("out.html",
               config={"displayModeBar": False},
               post_script="document.body.style.margin='0px';document.body.style.padding='0px';")
